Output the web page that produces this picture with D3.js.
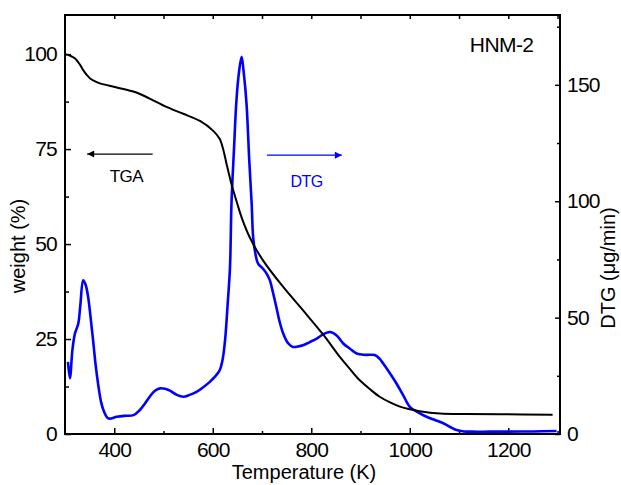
<!DOCTYPE html>
<html>
<head>
<meta charset="utf-8">
<script src="https://cdn.jsdelivr.net/npm/d3@7"></script>
<style>
  body{margin:0;background:#fff;}
  svg text{font-family:"Liberation Sans",Arial,sans-serif;}
</style>
</head>
<body>
<svg id="chart" width="621" height="485"></svg>
<script>
// TGA curve: temperature (K) -> weight (%)
const tgaT=[300,310,320,330,337,345,351,360,371,390,405,425,445,472,506,540,574,601,614,622,628,638,648,660,675,702,743,783,824,858,878,898,920,939,960,980,1000,1020,1061,1115,1183,1290];
const tgaW=[100,99.6,98.9,97.3,95.8,94.4,93.6,92.9,92.3,91.7,91.2,90.6,89.9,88.3,86.1,84.3,82.4,79.8,77.7,74.5,71.1,65.8,61.4,56.5,51.8,45.7,38.7,32.6,26.2,20.3,17.2,14.2,11.7,9.8,8.3,7.2,6.5,6.0,5.4,5.25,5.2,5.1];

// DTG curve: temperature (K) -> DTG (ug/min)
const dtgT=[306,310,315,320,327,331,337,342,347,352,357,362,368,373,378,388,405,420,439,452,462,472,482,493,503,513,527,540,553,567,580,594,604,614,620,625,630,635,638,643,648,653,658.5,663,668.6,674,679,682,687,692,702,709,716,722,729,736,743,753,763,773,783,797,811,824,838,851,865,878,892,910,929,938,946,960,973,987,1000,1017,1034,1051,1068,1082,1095,1110,1128,1160,1196,1250,1298];
const dtgV=[31,24,36,43,47.5,55,66,64,58.8,50,40.3,30,20.3,14,10.3,6.7,7.4,7.8,8.1,10.3,13,16,18.5,19.6,19.4,18.6,16.8,16,16.8,18.1,20,22.4,24.5,27.4,32,40.3,55,71.7,98.9,122,143,155,162,155,141.7,118,98.9,84.6,77,73.2,71,69,66,61,54.6,48,43.2,39,37.4,37.6,38.1,39.5,41,42.8,43.8,42.4,38.9,36.7,34.6,34,33.9,32.5,30.3,26,21.7,16.5,11.7,9.3,7.4,6,4.6,3,1.7,1.1,1,1,1,1.1,1.3];

// axis ticks
const xMajor=[400,600,800,1000,1200];
const xMinor=[500,700,900,1100,1300];
const xTop=[400,500,600,700,800,900,1000,1100,1200,1300];
const wMajor=[0,25,50,75,100];
const wMinor=[12.5,37.5,62.5,87.5];
const dMajor=[0,50,100,150];
const dMinor=[25,75,125,175];

// annotations (data coords: T, weight)
const notes=[
  {text:"HNM-2",T:1122,w:100.6,color:"#000",size:21},
  {text:"TGA",T:391,w:66.3,color:"#000",size:17},
  {text:"DTG",T:758,w:65.1,color:"#0000ff",size:16}
];
const arrows=[
  {T1:478,T2:345,w:73.7,color:"#000"},
  {T1:710,T2:862,w:73.4,color:"#0000ff"}
];

const svg=d3.select("#chart");
const L=65,R=560,T=15,B=434;
const x=d3.scaleLinear().domain([300,1305]).range([L,R]);
const yW=d3.scaleLinear().domain([0,110.3]).range([B,T]);
const yD=d3.scaleLinear().domain([0,180]).range([B,T]);

const defs=svg.append("defs");
arrows.forEach((a,i)=>{
  defs.append("marker").attr("id","ah"+i).attr("viewBox","0 0 10 10")
    .attr("refX",10).attr("refY",5).attr("markerUnits","userSpaceOnUse")
    .attr("markerWidth",9).attr("markerHeight",7).attr("orient","auto")
    .append("path").attr("d","M0,0 L10,5 L0,10 z").attr("fill",a.color);
});

function styleAxis(g,fs){
  g.select(".domain").remove();
  g.selectAll(".tick line").attr("stroke","#000").attr("stroke-width",1.5);
  g.selectAll("text").attr("font-size",fs).attr("fill","#000").attr("letter-spacing","-0.8px");
}

// bottom
svg.append("g").attr("transform",`translate(0,${B})`)
  .call(d3.axisBottom(x).tickValues(xMajor).tickSize(-6).tickPadding(8).tickFormat(d3.format("d")))
  .call(g=>styleAxis(g,21));
svg.append("g").attr("transform",`translate(0,${B})`)
  .call(d3.axisBottom(x).tickValues(xMinor).tickSize(-3).tickFormat(""))
  .call(g=>styleAxis(g,21));
// top
svg.append("g").attr("transform",`translate(0,${T})`)
  .call(d3.axisTop(x).tickValues(xTop).tickSize(-4).tickFormat(""))
  .call(g=>styleAxis(g,21));
// left
svg.append("g").attr("transform",`translate(${L},0)`)
  .call(d3.axisLeft(yW).tickValues(wMajor).tickSize(-6).tickPadding(8).tickFormat(d3.format("d")))
  .call(g=>styleAxis(g,21));
svg.append("g").attr("transform",`translate(${L},0)`)
  .call(d3.axisLeft(yW).tickValues(wMinor).tickSize(-4).tickFormat(""))
  .call(g=>styleAxis(g,21));
// right
svg.append("g").attr("transform",`translate(${R},0)`)
  .call(d3.axisRight(yD).tickValues(dMajor).tickSize(-5).tickPadding(7).tickFormat(d3.format("d")))
  .call(g=>styleAxis(g,21));
svg.append("g").attr("transform",`translate(${R},0)`)
  .call(d3.axisRight(yD).tickValues(dMinor).tickSize(-3).tickFormat(""))
  .call(g=>styleAxis(g,21));

// frame
svg.append("rect").attr("x",L).attr("y",T).attr("width",R-L).attr("height",B-T)
  .attr("fill","none").attr("stroke","#000").attr("stroke-width",2);

// curves
const tga=tgaT.map((t,i)=>[t,tgaW[i]]);
const dtg=dtgT.map((t,i)=>[t,dtgV[i]]);
svg.append("path").datum(dtg).attr("fill","none").attr("stroke","#0000ff").attr("stroke-width",2.6)
  .attr("d",d3.line().x(d=>x(d[0])).y(d=>yD(d[1])).curve(d3.curveCatmullRom.alpha(0.5)));
svg.append("path").datum(tga).attr("fill","none").attr("stroke","#000").attr("stroke-width",2)
  .attr("d",d3.line().x(d=>x(d[0])).y(d=>yW(d[1])).curve(d3.curveCatmullRom.alpha(0.5)));

// arrows and labels
arrows.forEach((a,i)=>{
  svg.append("line").attr("x1",x(a.T1)).attr("x2",x(a.T2)).attr("y1",yW(a.w)).attr("y2",yW(a.w))
    .attr("stroke",a.color).attr("stroke-width",1.2).attr("marker-end",`url(#ah${i})`);
});
notes.forEach(n=>{
  svg.append("text").attr("x",x(n.T)).attr("y",yW(n.w)).attr("font-size",n.size)
    .attr("fill",n.color).attr("letter-spacing","-0.6px").text(n.text);
});

// axis titles
svg.append("text").attr("x",304).attr("y",479).attr("text-anchor","middle")
  .attr("font-size",20).text("Temperature (K)");
svg.append("text").attr("transform","translate(25,246) rotate(-90)").attr("text-anchor","middle")
  .attr("font-size",20).text("weight (%)");
svg.append("text").attr("transform","translate(615,268) rotate(-90)").attr("text-anchor","middle")
  .attr("font-size",20).text("DTG (μg/min)");
</script>
</body>
</html>
